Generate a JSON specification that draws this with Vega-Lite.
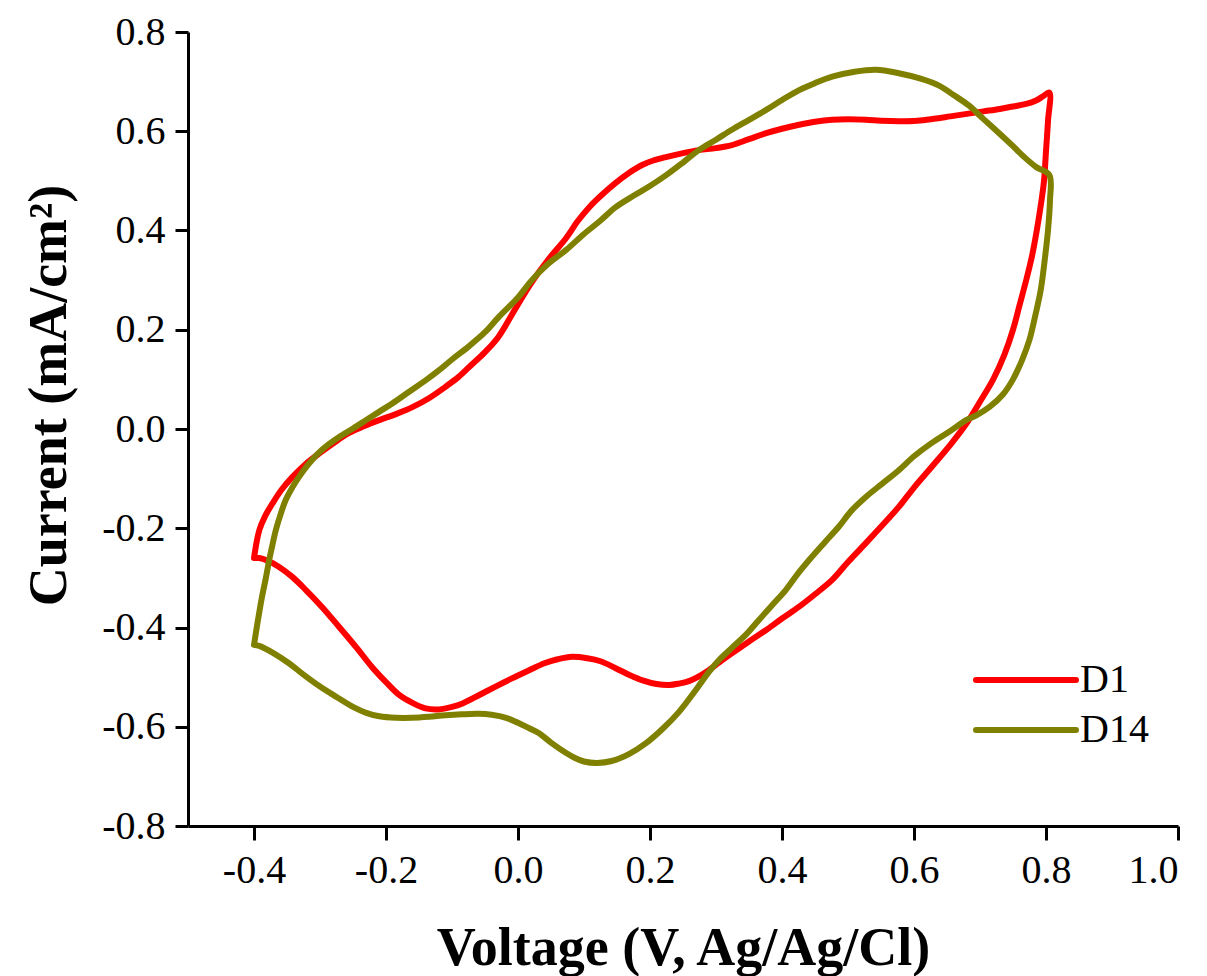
{
"$schema": "https://vega.github.io/schema/vega-lite/v6.json",
"width": 990, "height": 794,
"autosize": {"type": "none"},
"padding": {"left": 188, "top": 32, "right": 29, "bottom": 150},
"background": "white",
"config": {"view": {"stroke": null}, "font": "Liberation Serif"},
"data": {"values": [
{"s":"D1","o":1,"v":-0.40,"i":-0.26},{"s":"D1","o":2,"v":-0.392,"i":-0.204},{"s":"D1","o":3,"v":-0.383,"i":-0.175},{"s":"D1","o":4,"v":-0.372,"i":-0.15},{"s":"D1","o":5,"v":-0.358,"i":-0.122},{"s":"D1","o":6,"v":-0.342,"i":-0.097},{"s":"D1","o":7,"v":-0.322,"i":-0.071},{"s":"D1","o":8,"v":-0.30,"i":-0.048},{"s":"D1","o":9,"v":-0.278,"i":-0.027},{"s":"D1","o":10,"v":-0.256,"i":-0.008},{"s":"D1","o":11,"v":-0.233,"i":0.006},{"s":"D1","o":12,"v":-0.21,"i":0.018},{"s":"D1","o":13,"v":-0.185,"i":0.03},{"s":"D1","o":14,"v":-0.16,"i":0.044},{"s":"D1","o":15,"v":-0.135,"i":0.062},{"s":"D1","o":16,"v":-0.11,"i":0.085},{"s":"D1","o":17,"v":-0.09,"i":0.105},{"s":"D1","o":18,"v":-0.07,"i":0.13},{"s":"D1","o":19,"v":-0.05,"i":0.155},{"s":"D1","o":20,"v":-0.03,"i":0.185},{"s":"D1","o":21,"v":-0.005,"i":0.24},{"s":"D1","o":22,"v":0.02,"i":0.294},{"s":"D1","o":23,"v":0.045,"i":0.34},{"s":"D1","o":24,"v":0.073,"i":0.385},{"s":"D1","o":25,"v":0.09,"i":0.418},{"s":"D1","o":26,"v":0.108,"i":0.447},{"s":"D1","o":27,"v":0.128,"i":0.473},{"s":"D1","o":28,"v":0.148,"i":0.496},{"s":"D1","o":29,"v":0.168,"i":0.516},{"s":"D1","o":30,"v":0.188,"i":0.532},{"s":"D1","o":31,"v":0.205,"i":0.541},{"s":"D1","o":32,"v":0.224,"i":0.548},{"s":"D1","o":33,"v":0.25,"i":0.556},{"s":"D1","o":34,"v":0.274,"i":0.562},{"s":"D1","o":35,"v":0.30,"i":0.566},{"s":"D1","o":36,"v":0.324,"i":0.572},{"s":"D1","o":37,"v":0.35,"i":0.584},{"s":"D1","o":38,"v":0.376,"i":0.596},{"s":"D1","o":39,"v":0.40,"i":0.605},{"s":"D1","o":40,"v":0.426,"i":0.613},{"s":"D1","o":41,"v":0.45,"i":0.619},{"s":"D1","o":42,"v":0.476,"i":0.623},{"s":"D1","o":43,"v":0.50,"i":0.624},{"s":"D1","o":44,"v":0.527,"i":0.623},{"s":"D1","o":45,"v":0.55,"i":0.621},{"s":"D1","o":46,"v":0.577,"i":0.62},{"s":"D1","o":47,"v":0.605,"i":0.621},{"s":"D1","o":48,"v":0.63,"i":0.625},{"s":"D1","o":49,"v":0.655,"i":0.63},{"s":"D1","o":50,"v":0.68,"i":0.635},{"s":"D1","o":51,"v":0.705,"i":0.64},{"s":"D1","o":52,"v":0.73,"i":0.645},{"s":"D1","o":53,"v":0.75,"i":0.65},{"s":"D1","o":54,"v":0.77,"i":0.655},{"s":"D1","o":55,"v":0.785,"i":0.662},{"s":"D1","o":56,"v":0.795,"i":0.67},{"s":"D1","o":57,"v":0.805,"i":0.678},
{"s":"D1","o":58,"v":0.803,"i":0.62},{"s":"D1","o":59,"v":0.80,"i":0.56},{"s":"D1","o":60,"v":0.797,"i":0.50},{"s":"D1","o":61,"v":0.792,"i":0.45},{"s":"D1","o":62,"v":0.786,"i":0.40},{"s":"D1","o":63,"v":0.779,"i":0.35},{"s":"D1","o":64,"v":0.77,"i":0.30},{"s":"D1","o":65,"v":0.76,"i":0.25},{"s":"D1","o":66,"v":0.75,"i":0.20},{"s":"D1","o":67,"v":0.737,"i":0.15},{"s":"D1","o":68,"v":0.72,"i":0.10},{"s":"D1","o":69,"v":0.70,"i":0.055},{"s":"D1","o":70,"v":0.68,"i":0.012},{"s":"D1","o":71,"v":0.655,"i":-0.032},{"s":"D1","o":72,"v":0.627,"i":-0.076},{"s":"D1","o":73,"v":0.60,"i":-0.118},{"s":"D1","o":74,"v":0.577,"i":-0.157},{"s":"D1","o":75,"v":0.552,"i":-0.194},{"s":"D1","o":76,"v":0.527,"i":-0.23},{"s":"D1","o":77,"v":0.50,"i":-0.268},{"s":"D1","o":78,"v":0.476,"i":-0.304},{"s":"D1","o":79,"v":0.45,"i":-0.333},{"s":"D1","o":80,"v":0.426,"i":-0.358},{"s":"D1","o":81,"v":0.40,"i":-0.382},{"s":"D1","o":82,"v":0.376,"i":-0.405},{"s":"D1","o":83,"v":0.35,"i":-0.428},{"s":"D1","o":84,"v":0.324,"i":-0.452},{"s":"D1","o":85,"v":0.305,"i":-0.47},{"s":"D1","o":86,"v":0.289,"i":-0.486},{"s":"D1","o":87,"v":0.272,"i":-0.5},{"s":"D1","o":88,"v":0.259,"i":-0.508},{"s":"D1","o":89,"v":0.244,"i":-0.513},{"s":"D1","o":90,"v":0.229,"i":-0.516},{"s":"D1","o":91,"v":0.21,"i":-0.514},{"s":"D1","o":92,"v":0.19,"i":-0.507},{"s":"D1","o":93,"v":0.168,"i":-0.495},{"s":"D1","o":94,"v":0.148,"i":-0.482},{"s":"D1","o":95,"v":0.125,"i":-0.468},{"s":"D1","o":96,"v":0.105,"i":-0.462},{"s":"D1","o":97,"v":0.082,"i":-0.459},{"s":"D1","o":98,"v":0.06,"i":-0.464},{"s":"D1","o":99,"v":0.04,"i":-0.472},{"s":"D1","o":100,"v":0.017,"i":-0.486},{"s":"D1","o":101,"v":-0.01,"i":-0.503},{"s":"D1","o":102,"v":-0.034,"i":-0.519},{"s":"D1","o":103,"v":-0.06,"i":-0.537},{"s":"D1","o":104,"v":-0.084,"i":-0.553},{"s":"D1","o":105,"v":-0.10,"i":-0.56},{"s":"D1","o":106,"v":-0.12,"i":-0.565},{"s":"D1","o":107,"v":-0.14,"i":-0.563},{"s":"D1","o":108,"v":-0.16,"i":-0.552},{"s":"D1","o":109,"v":-0.18,"i":-0.536},{"s":"D1","o":110,"v":-0.20,"i":-0.51},{"s":"D1","o":111,"v":-0.221,"i":-0.48},{"s":"D1","o":112,"v":-0.245,"i":-0.44},{"s":"D1","o":113,"v":-0.271,"i":-0.399},{"s":"D1","o":114,"v":-0.296,"i":-0.36},{"s":"D1","o":115,"v":-0.321,"i":-0.325},{"s":"D1","o":116,"v":-0.342,"i":-0.298},{"s":"D1","o":117,"v":-0.362,"i":-0.278},{"s":"D1","o":118,"v":-0.38,"i":-0.265},{"s":"D1","o":119,"v":-0.392,"i":-0.26},{"s":"D1","o":120,"v":-0.40,"i":-0.26},
{"s":"D14","o":1,"v":-0.40,"i":-0.435},{"s":"D14","o":2,"v":-0.394,"i":-0.385},{"s":"D14","o":3,"v":-0.388,"i":-0.339},{"s":"D14","o":4,"v":-0.382,"i":-0.30},{"s":"D14","o":5,"v":-0.377,"i":-0.264},{"s":"D14","o":6,"v":-0.372,"i":-0.233},{"s":"D14","o":7,"v":-0.367,"i":-0.204},{"s":"D14","o":8,"v":-0.36,"i":-0.173},{"s":"D14","o":9,"v":-0.352,"i":-0.143},{"s":"D14","o":10,"v":-0.342,"i":-0.118},{"s":"D14","o":11,"v":-0.332,"i":-0.097},{"s":"D14","o":12,"v":-0.318,"i":-0.072},{"s":"D14","o":13,"v":-0.302,"i":-0.048},{"s":"D14","o":14,"v":-0.287,"i":-0.031},{"s":"D14","o":15,"v":-0.271,"i":-0.016},{"s":"D14","o":16,"v":-0.25,"i":0.001},{"s":"D14","o":17,"v":-0.23,"i":0.018},{"s":"D14","o":18,"v":-0.21,"i":0.035},{"s":"D14","o":19,"v":-0.19,"i":0.052},{"s":"D14","o":20,"v":-0.165,"i":0.075},{"s":"D14","o":21,"v":-0.139,"i":0.099},{"s":"D14","o":22,"v":-0.12,"i":0.118},{"s":"D14","o":23,"v":-0.10,"i":0.14},{"s":"D14","o":24,"v":-0.075,"i":0.166},{"s":"D14","o":25,"v":-0.05,"i":0.195},{"s":"D14","o":26,"v":-0.029,"i":0.226},{"s":"D14","o":27,"v":0.0,"i":0.265},{"s":"D14","o":28,"v":0.021,"i":0.30},{"s":"D14","o":29,"v":0.045,"i":0.332},{"s":"D14","o":30,"v":0.073,"i":0.361},{"s":"D14","o":31,"v":0.10,"i":0.393},{"s":"D14","o":32,"v":0.125,"i":0.42},{"s":"D14","o":33,"v":0.148,"i":0.447},{"s":"D14","o":34,"v":0.175,"i":0.47},{"s":"D14","o":35,"v":0.198,"i":0.488},{"s":"D14","o":36,"v":0.225,"i":0.512},{"s":"D14","o":37,"v":0.25,"i":0.537},{"s":"D14","o":38,"v":0.274,"i":0.562},{"s":"D14","o":39,"v":0.30,"i":0.583},{"s":"D14","o":40,"v":0.324,"i":0.603},{"s":"D14","o":41,"v":0.35,"i":0.623},{"s":"D14","o":42,"v":0.376,"i":0.643},{"s":"D14","o":43,"v":0.40,"i":0.663},{"s":"D14","o":44,"v":0.426,"i":0.683},{"s":"D14","o":45,"v":0.45,"i":0.697},{"s":"D14","o":46,"v":0.476,"i":0.71},{"s":"D14","o":47,"v":0.51,"i":0.72},{"s":"D14","o":48,"v":0.542,"i":0.724},{"s":"D14","o":49,"v":0.577,"i":0.717},{"s":"D14","o":50,"v":0.61,"i":0.706},{"s":"D14","o":51,"v":0.638,"i":0.692},{"s":"D14","o":52,"v":0.66,"i":0.673},{"s":"D14","o":53,"v":0.683,"i":0.652},{"s":"D14","o":54,"v":0.705,"i":0.625},{"s":"D14","o":55,"v":0.729,"i":0.596},{"s":"D14","o":56,"v":0.75,"i":0.57},{"s":"D14","o":57,"v":0.767,"i":0.548},{"s":"D14","o":58,"v":0.785,"i":0.528},{"s":"D14","o":59,"v":0.805,"i":0.512},
{"s":"D14","o":60,"v":0.806,"i":0.46},{"s":"D14","o":61,"v":0.803,"i":0.40},{"s":"D14","o":62,"v":0.798,"i":0.34},{"s":"D14","o":63,"v":0.792,"i":0.28},{"s":"D14","o":64,"v":0.784,"i":0.23},{"s":"D14","o":65,"v":0.775,"i":0.18},{"s":"D14","o":66,"v":0.764,"i":0.14},{"s":"D14","o":67,"v":0.75,"i":0.10},{"s":"D14","o":68,"v":0.735,"i":0.07},{"s":"D14","o":69,"v":0.715,"i":0.045},{"s":"D14","o":70,"v":0.695,"i":0.028},{"s":"D14","o":71,"v":0.679,"i":0.018},{"s":"D14","o":72,"v":0.655,"i":-0.004},{"s":"D14","o":73,"v":0.627,"i":-0.028},{"s":"D14","o":74,"v":0.60,"i":-0.055},{"s":"D14","o":75,"v":0.577,"i":-0.083},{"s":"D14","o":76,"v":0.552,"i":-0.11},{"s":"D14","o":77,"v":0.527,"i":-0.137},{"s":"D14","o":78,"v":0.505,"i":-0.165},{"s":"D14","o":79,"v":0.486,"i":-0.197},{"s":"D14","o":80,"v":0.465,"i":-0.228},{"s":"D14","o":81,"v":0.445,"i":-0.258},{"s":"D14","o":82,"v":0.425,"i":-0.29},{"s":"D14","o":83,"v":0.406,"i":-0.324},{"s":"D14","o":84,"v":0.385,"i":-0.355},{"s":"D14","o":85,"v":0.365,"i":-0.385},{"s":"D14","o":86,"v":0.345,"i":-0.415},{"s":"D14","o":87,"v":0.324,"i":-0.441},{"s":"D14","o":88,"v":0.305,"i":-0.465},{"s":"D14","o":89,"v":0.289,"i":-0.49},{"s":"D14","o":90,"v":0.27,"i":-0.525},{"s":"D14","o":91,"v":0.244,"i":-0.57},{"s":"D14","o":92,"v":0.22,"i":-0.603},{"s":"D14","o":93,"v":0.194,"i":-0.633},{"s":"D14","o":94,"v":0.168,"i":-0.655},{"s":"D14","o":95,"v":0.142,"i":-0.669},{"s":"D14","o":96,"v":0.12,"i":-0.673},{"s":"D14","o":97,"v":0.10,"i":-0.67},{"s":"D14","o":98,"v":0.085,"i":-0.662},{"s":"D14","o":99,"v":0.073,"i":-0.653},{"s":"D14","o":100,"v":0.05,"i":-0.632},{"s":"D14","o":101,"v":0.032,"i":-0.613},{"s":"D14","o":102,"v":0.017,"i":-0.603},{"s":"D14","o":103,"v":0.0,"i":-0.592},{"s":"D14","o":104,"v":-0.018,"i":-0.582},{"s":"D14","o":105,"v":-0.04,"i":-0.576},{"s":"D14","o":106,"v":-0.06,"i":-0.574},{"s":"D14","o":107,"v":-0.085,"i":-0.575},{"s":"D14","o":108,"v":-0.11,"i":-0.577},{"s":"D14","o":109,"v":-0.135,"i":-0.58},{"s":"D14","o":110,"v":-0.16,"i":-0.582},{"s":"D14","o":111,"v":-0.185,"i":-0.582},{"s":"D14","o":112,"v":-0.21,"i":-0.579},{"s":"D14","o":113,"v":-0.23,"i":-0.572},{"s":"D14","o":114,"v":-0.25,"i":-0.56},{"s":"D14","o":115,"v":-0.275,"i":-0.54},{"s":"D14","o":116,"v":-0.30,"i":-0.519},{"s":"D14","o":117,"v":-0.325,"i":-0.495},{"s":"D14","o":118,"v":-0.347,"i":-0.472},{"s":"D14","o":119,"v":-0.37,"i":-0.452},{"s":"D14","o":120,"v":-0.392,"i":-0.437},{"s":"D14","o":121,"v":-0.40,"i":-0.435}
]},
"mark": {"type": "line", "strokeWidth": 6, "interpolate": "catmull-rom", "strokeJoin": "round", "strokeCap": "round"},
"encoding": {
  "x": {"field": "v", "type": "quantitative",
    "scale": {"domain": [-0.5, 1.0], "nice": false, "zero": false},
    "axis": {"title": "Voltage (V, Ag/Ag/Cl)", "values": [-0.4, -0.2, 0, 0.2, 0.4, 0.6, 0.8, 1.0],
      "labelExpr": "replace(format(datum.value, '.1f'), '\u2212', '-')",
      "grid": false, "domainColor": "black", "domainWidth": 3, "tickColor": "black", "tickWidth": 3, "tickSize": 14,
      "labelFont": "Liberation Serif", "labelFontSize": 40, "labelColor": "black", "labelPadding": 10,
      "titleFont": "Liberation Serif", "titleFontSize": 54, "titleFontWeight": "bold", "titleColor": "black",
      "titleBaseline": "alphabetic", "titleY": 138}},
  "y": {"field": "i", "type": "quantitative",
    "scale": {"domain": [-0.8, 0.8], "nice": false, "zero": false},
    "axis": {"title": "Current (mA/cm²)", "values": [-0.8, -0.6, -0.4, -0.2, 0, 0.2, 0.4, 0.6, 0.8],
      "labelExpr": "replace(format(datum.value, '.1f'), '\u2212', '-')",
      "grid": false, "domainColor": "black", "domainWidth": 3, "tickColor": "black", "tickWidth": 3, "tickSize": 13,
      "labelFont": "Liberation Serif", "labelFontSize": 40, "labelColor": "black", "labelPadding": 10,
      "titleFont": "Liberation Serif", "titleFontSize": 54, "titleFontWeight": "bold", "titleColor": "black",
      "titleBaseline": "alphabetic", "titleX": -123, "titleY": 363}},
  "color": {"field": "s", "type": "nominal",
    "scale": {"domain": ["D1", "D14"], "range": ["#FF0000", "#808000"]},
    "legend": {"orient": "none", "legendX": 858, "legendY": 628, "title": null,
      "symbolType": "M-9,0H1", "symbolSize": 400, "symbolStrokeWidth": 6,
      "labelFont": "Liberation Serif", "labelFontSize": 40, "labelColor": "black", "labelOffset": -6,
      "rowPadding": 10, "padding": 0,
      "encode": {"symbols": {"update": {"strokeCap": {"value": "round"}}}}}},
  "order": {"field": "o", "type": "quantitative"}
}
}
